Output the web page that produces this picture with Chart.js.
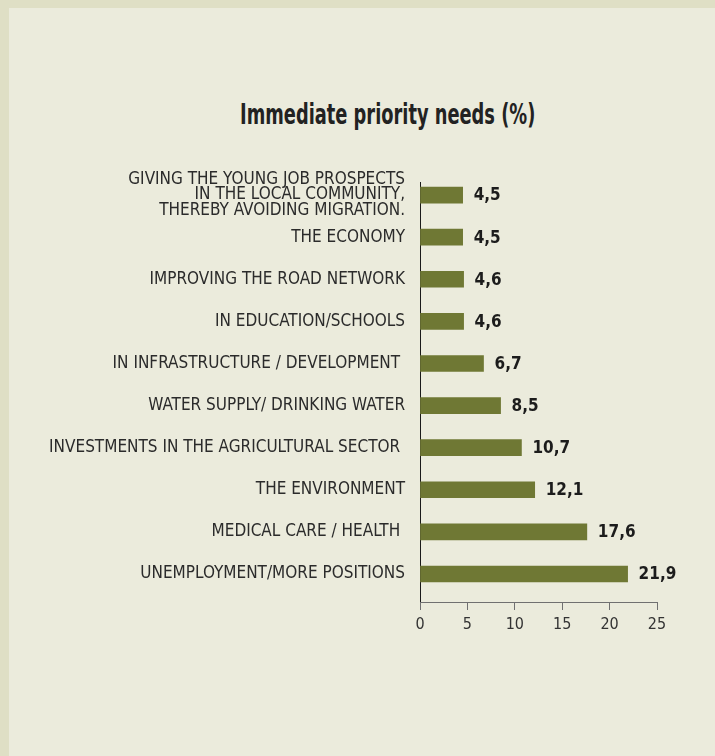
<!DOCTYPE html>
<html lang="en">
<head>
  <meta charset="UTF-8">
  <title>Immediate priority needs (%)</title>
  <script src="https://cdn.jsdelivr.net/npm/chart.js"></script>
  <style>
    body {
      margin: 0;
      width: 715px;
      height: 756px;
      overflow: hidden;
      background: #ebebdc;
    }

    #frame {
      position: absolute;
      left: 0;
      top: 0;
      width: 715px;
      height: 756px;
      box-sizing: border-box;
      border-top: 8px solid #dfdfc5;
      border-left: 9px solid #dfdfc5;
      background: #ebebdc;
    }

    #title {
      position: absolute;
      top: 98px;
      left: 0;
      width: 775px;
      text-align: center;
      line-height: 28px;
      font: bold 28px "Liberation Sans Narrow", "DejaVu Sans Condensed", sans-serif;
      color: #222;
      white-space: nowrap;
    }

    #title span {
      display: inline-block;
      transform-origin: center;
    }

    #chart-container {
      position: absolute;
      left: 0;
      top: 0;
      width: 715px;
      height: 645px;
    }
  </style>
</head>
<body>
  <div id="frame"></div>
  <div id="title"><span>Immediate priority needs (%)</span></div>
  <div id="chart-container">
    <canvas id="needsChart"></canvas>
  </div>

<script>
  const categories = [
    ["GIVING THE YOUNG JOB PROSPECTS", "IN THE LOCAL COMMUNITY,", "THEREBY AVOIDING MIGRATION."],
    "THE ECONOMY",
    "IMPROVING THE ROAD NETWORK",
    "IN EDUCATION/SCHOOLS",
    "IN INFRASTRUCTURE / DEVELOPMENT ",
    "WATER SUPPLY/ DRINKING WATER",
    "INVESTMENTS IN THE AGRICULTURAL SECTOR ",
    "THE ENVIRONMENT",
    "MEDICAL CARE / HEALTH ",
    "UNEMPLOYMENT/MORE POSITIONS"
  ];
  const shares = [4.5, 4.5, 4.6, 4.6, 6.7, 8.5, 10.7, 12.1, 17.6, 21.9];
  const xTicks = [0, 5, 10, 15, 20, 25];

  const fontFamily = '"Liberation Sans Narrow", "DejaVu Sans Condensed", sans-serif';

  // squeeze the title to the condensed width of the original
  const titleSpan = document.querySelector('#title span');
  titleSpan.style.transform = 'scaleX(' + (295 / titleSpan.offsetWidth) + ')';

  // numbers at the end of each bar, with a decimal comma
  const valueLabels = {
    id: 'valueLabels',
    afterDatasetsDraw(chart) {
      const ctx = chart.ctx;
      const meta = chart.getDatasetMeta(0);
      ctx.save();
      ctx.font = 'bold 17px ' + fontFamily;
      ctx.fillStyle = '#1c1c1c';
      ctx.textBaseline = 'middle';
      meta.data.forEach((bar, i) => {
        ctx.fillText(shares[i].toFixed(1).replace('.', ','), bar.x + 11, bar.y + 1);
      });
      ctx.restore();
    }
  };

  const ctx = document.getElementById('needsChart').getContext('2d');
  new Chart(ctx, {
    type: 'bar',
    data: {
      datasets: [{
        data: shares.map((v, i) => ({ x: v, y: i })),
        backgroundColor: '#6f7834',
        barThickness: 16
      }]
    },
    options: {
      indexAxis: 'y',
      responsive: true,
      maintainAspectRatio: false,
      animation: false,
      layout: {
        padding: { top: 182, left: 0, right: 58, bottom: 0 }
      },
      plugins: {
        legend: { display: false },
        tooltip: { enabled: false }
      },
      scales: {
        y: {
          type: 'linear',
          reverse: true,
          offset: false,
          min: -0.31,
          max: 9.665,
          afterBuildTicks: scale => {
            scale.ticks = categories.map((c, i) => ({ value: i }));
          },
          afterFit: scale => { scale.width = 420; },
          grid: { display: false, drawTicks: false },
          border: { display: true, color: '#1a1a1a', width: 1 },
          ticks: {
            autoSkip: false,
            padding: 15,
            color: '#2b2b2b',
            font: { family: fontFamily, size: 17, lineHeight: 0.93 },
            callback: value => categories[value]
          }
        },
        x: {
          min: 0,
          max: 25,
          afterBuildTicks: scale => {
            scale.ticks = xTicks.map(v => ({ value: v }));
          },
          afterFit: scale => { scale.height = 43; },
          grid: { drawOnChartArea: false, drawTicks: true, tickLength: 8, color: '#707070' },
          border: { color: '#707070', width: 1 },
          ticks: {
            padding: 5,
            color: '#333',
            font: { family: fontFamily, size: 16 }
          }
        }
      }
    },
    plugins: [valueLabels]
  });
</script>
</body>
</html>
